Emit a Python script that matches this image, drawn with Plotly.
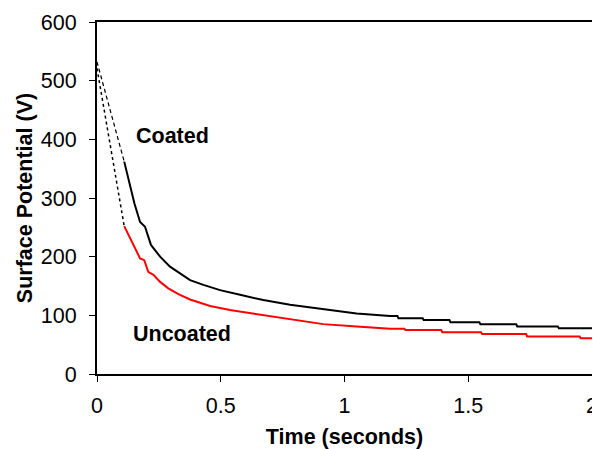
import plotly.graph_objects as go

# Coated (black): initial dashed segment then measured curve
coated_dash_t = [0.0, 0.11]
coated_dash_v = [532, 362]
coated_t = [0.11, 0.133, 0.151, 0.174, 0.194, 0.218, 0.255, 0.295, 0.342, 0.376,
            0.43, 0.497, 0.578, 0.672, 0.78, 0.914, 1.049, 1.184,
            1.214, 1.218, 1.316, 1.32, 1.424, 1.428, 1.545, 1.549,
            1.694, 1.698, 1.862, 1.866, 2.0]
coated_v = [362, 319, 291, 259, 251, 220, 200, 183, 169, 160,
            152, 143, 135, 126, 118, 110, 103, 99,
            99, 95, 95, 92, 92, 88, 88, 85,
            85, 81, 81, 78, 78]

# Uncoated (red): initial dotted segment then measured curve
uncoated_dot_t = [0.0, 0.11]
uncoated_dot_v = [521, 252]
uncoated_t = [0.11, 0.151, 0.174, 0.191, 0.207, 0.228, 0.255, 0.288, 0.329, 0.376,
              0.416, 0.457, 0.537, 0.645, 0.78, 0.914, 1.049, 1.184,
              1.242, 1.246, 1.391, 1.395, 1.552, 1.556, 1.734, 1.738,
              1.950, 1.954, 2.0]
uncoated_v = [252, 217, 197, 194, 174, 169, 157, 146, 136, 127,
              121, 116, 109, 102, 93, 85, 81, 77,
              77, 75, 75, 71, 71, 68, 68, 64,
              64, 61, 61]

x_ticks = [0, 0.5, 1, 1.5, 2]
x_tick_labels = ["0", "0.5", "1", "1.5", "2"]
y_ticks = [0, 100, 200, 300, 400, 500, 600]

FONT = "Liberation Sans, Arial, sans-serif"
FS = 21.5

fig = go.Figure()
fig.add_trace(go.Scatter(x=coated_dash_t, y=coated_dash_v, mode="lines",
                         line=dict(color="black", width=1.2, dash="4px,3px"),
                         showlegend=False, hoverinfo="skip"))
fig.add_trace(go.Scatter(x=uncoated_dot_t, y=uncoated_dot_v, mode="lines",
                         line=dict(color="black", width=1.5, dash="dot"),
                         showlegend=False, hoverinfo="skip"))
fig.add_trace(go.Scatter(x=coated_t, y=coated_v, mode="lines", name="Coated",
                         line=dict(color="black", width=2), showlegend=False))
fig.add_trace(go.Scatter(x=uncoated_t, y=uncoated_v, mode="lines", name="Uncoated",
                         line=dict(color="#ff0000", width=2), showlegend=False))

fig.add_annotation(x=0.305, y=405, text="<b>Coated</b>", showarrow=False,
                   font=dict(family=FONT, size=FS, color="black"))
fig.add_annotation(x=0.345, y=68, text="<b>Uncoated</b>", showarrow=False,
                   font=dict(family=FONT, size=FS, color="black"))

# page body has an 8px default margin, so the figure is sized/offset to compensate
fig.update_layout(
    width=592, height=441,
    margin=dict(l=89, r=8, t=14, b=75),
    paper_bgcolor="white", plot_bgcolor="white",
    font=dict(family=FONT, size=FS, color="black"),
    xaxis=dict(range=[0, 2], tickvals=x_ticks, ticktext=x_tick_labels,
               automargin=False,
               showgrid=False, zeroline=False, showline=True, linecolor="black",
               linewidth=2, mirror=True, ticks="outside", ticklen=6,
               tickwidth=1, tickcolor="black", ticklabelstandoff=5,
               title=dict(text="<b>Time (seconds)</b>", font=dict(size=FS), standoff=18)),
    yaxis=dict(range=[0, 600], tickvals=y_ticks,
               automargin=False,
               showgrid=False, zeroline=False, showline=True, linecolor="black",
               linewidth=2, mirror=True, ticks="outside", ticklen=6,
               tickwidth=1, tickcolor="black", ticklabelstandoff=8,
               title=dict(text="<b>Surface Potential (V)</b>", font=dict(size=FS), standoff=2)),
)

fig.write_html("out.html")
